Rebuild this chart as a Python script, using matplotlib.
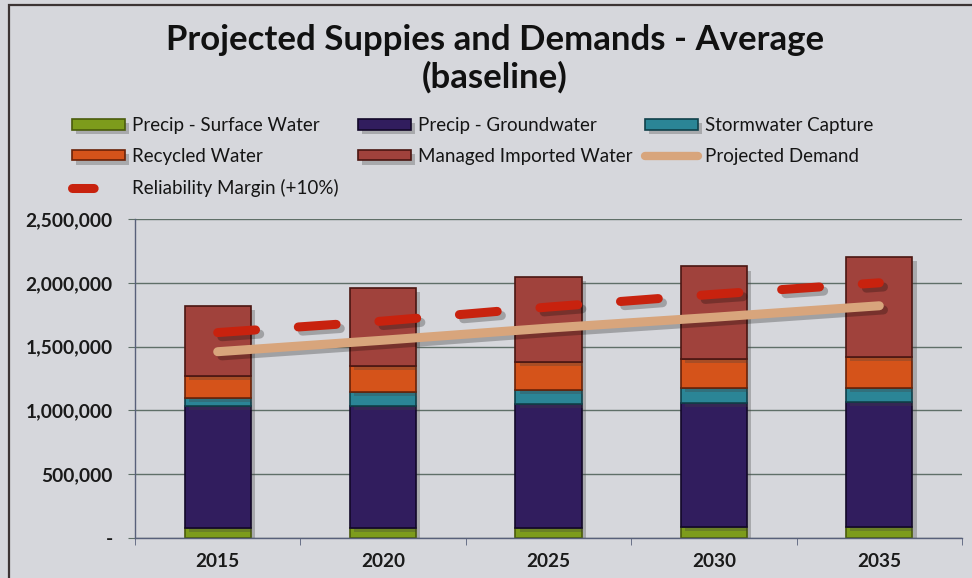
import matplotlib
matplotlib.use('Agg')
import matplotlib.pyplot as plt
import matplotlib.patheffects as pe
from matplotlib.lines import Line2D
from matplotlib.patches import Rectangle
from matplotlib.ticker import FuncFormatter, FixedLocator

plt.rcParams['font.family'] = ['Lato', 'DejaVu Sans']

# data
years = ['2015', '2020', '2025', '2030', '2035']
surface_water = [80000, 80000, 80000, 85000, 90000]
groundwater = [955000, 955000, 971000, 976000, 977000]
stormwater = [60000, 112000, 110000, 113000, 112000]
recycled = [175000, 204000, 222000, 228000, 238000]
imported = [550000, 607000, 662000, 726000, 785000]
demand = [1460000, 1550000, 1645000, 1730000, 1820000]
margin = [1610000, 1700000, 1810000, 1910000, 2000000]

bg = '#d6d7dc'
fig = plt.figure(figsize=(9.72, 5.78), dpi=100, facecolor=bg)
ax = fig.add_axes([135/972, 40/578, (962-135)/972, (538-219)/578])
ax.set_facecolor('none')

x = list(range(len(years)))
series = [
    ('Precip - Surface Water', surface_water, '#7d9c1c', '#4a5c0c'),
    ('Precip - Groundwater', groundwater, '#311d5e', '#120828'),
    ('Stormwater Capture', stormwater, '#2b8596', '#10404a'),
    ('Recycled Water', recycled, '#d5531a', '#6a2208'),
    ('Managed Imported Water', imported, '#a0423c', '#4a1612'),
]
shadow = [pe.withSimplePatchShadow(offset=(3, -3), shadow_rgbFace='#404040', alpha=0.3)]
bottom = [0]*len(years)
bars = {}
for name, vals, col, edge in series:
    b = ax.bar(x, vals, 0.4, bottom=bottom, color=col, edgecolor=edge, linewidth=1.2,
               label=name, zorder=2)
    for p in b.patches:
        p.set_path_effects(shadow)
    bars[name] = b
    bottom = [bt + v for bt, v in zip(bottom, vals)]

line_shadow = [pe.SimpleLineShadow(offset=(3, -3), shadow_color='k', alpha=0.25), pe.Normal()]
ax.plot(x, demand, color='#d8a57c', lw=6.5, solid_capstyle='round', zorder=3,
        path_effects=line_shadow)
ax.plot(x, margin, color='#c8220e', lw=6.5, dashes=(4.2, 4.75), dash_capstyle='round',
        zorder=4, path_effects=line_shadow)

ax.set_xlim(-0.5, 4.5)
ax.set_ylim(0, 2500000)
ax.set_yticks([0, 500000, 1000000, 1500000, 2000000, 2500000])
ax.yaxis.set_major_formatter(FuncFormatter(lambda v, p: '-' if v == 0 else '{:,.0f}'.format(v)))
ax.set_xticks(x)
ax.set_xticklabels(years)
ax.xaxis.set_minor_locator(FixedLocator([-0.5, 0.5, 1.5, 2.5, 3.5, 4.5]))
ax.tick_params(axis='x', which='major', length=0, pad=11, labelsize=13.7)
ax.tick_params(axis='x', which='minor', length=5, color='#58607a', direction='out')
ax.tick_params(axis='y', length=5, color='#5f6f68', pad=11, labelsize=13.8)
for lbl in ax.get_xticklabels() + ax.get_yticklabels():
    lbl.set_fontweight('bold')
    lbl.set_color('#1a1a1a')
ax.grid(axis='y', color='#5f6f68', lw=1, zorder=0)
ax.set_axisbelow(True)
for s in ['top', 'right']:
    ax.spines[s].set_visible(False)
for s in ['left', 'bottom']:
    ax.spines[s].set_color('#58607a')
    ax.spines[s].set_linewidth(1)

# outer frame
fig.add_artist(Rectangle((8.5/972, -0.1), 1.2, 1.1 - 5/578, transform=fig.transFigure,
                         fill=False, edgecolor='#3c3434', lw=1.6))

# title
fig.text(495/972, 1 - 40/578, 'Projected Suppies and Demands - Average', ha='center', va='center',
         fontsize=25, fontweight='bold', color='#111111')
fig.text(495/972, 1 - 77/578, '(baseline)', ha='center', va='center',
         fontsize=25, fontweight='bold', color='#111111')

# legend, three columns placed like the original
dem_h = Line2D([], [], color='#d8a57c', lw=6, solid_capstyle='round')
mar_h = Line2D([], [], color='#c8220e', lw=6.5, dashes=(2.4, 10), dash_capstyle='round')
cols = [
    (72, [bars['Precip - Surface Water'], bars['Recycled Water'], mar_h],
     ['Precip - Surface Water', 'Recycled Water', 'Reliability Margin (+10%)']),
    (358, [bars['Precip - Groundwater'], bars['Managed Imported Water']],
     ['Precip - Groundwater', 'Managed Imported Water']),
    (645, [bars['Stormwater Capture'], dem_h],
     ['Stormwater Capture', 'Projected Demand']),
]
for xp, hs, ls in cols:
    leg = fig.legend(hs, ls, loc='upper left', bbox_to_anchor=(xp/972, 1 - 117/578), frameon=False,
                     fontsize=13.5, handlelength=2.83, handleheight=0.48, handletextpad=0.37,
                     labelspacing=0.74, borderpad=0, borderaxespad=0)
    for t in leg.get_texts():
        t.set_color('#151515')

fig.savefig('out.png', dpi=100, facecolor=bg)
